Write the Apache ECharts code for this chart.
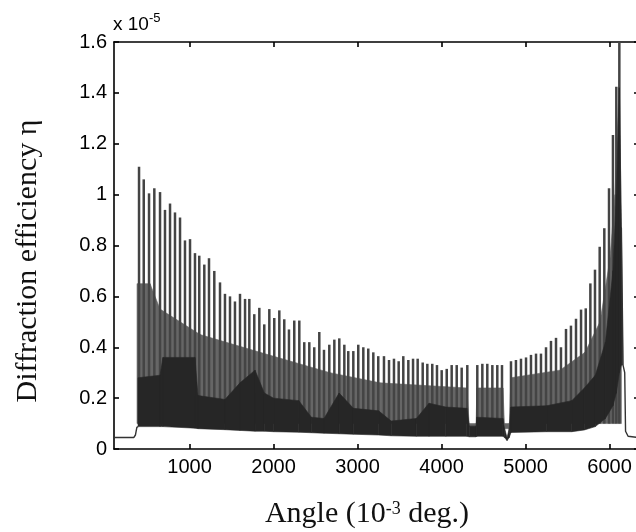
<!DOCTYPE html>
<html>
<head>
<meta charset="utf-8">
<script src="https://cdn.jsdelivr.net/npm/echarts@6/dist/echarts.min.js"></script>
<style>
  html, body { margin: 0; padding: 0; background: #fff; }
  #chart { width: 636px; height: 532px; }
</style>
</head>
<body>
<div id="chart"></div>
<script>
// ---- Data (angle in 10^-3 deg, efficiency in units of 1e-5) ----
const xTicks = [1000, 2000, 3000, 4000, 5000, 6000];

// Tall fringe spikes: positions and peak heights
const spikeX = [398, 454, 517, 580, 648, 707, 767, 826, 886, 945,
  1005, 1064, 1115, 1175, 1231, 1294, 1362, 1421, 1481, 1540,
  1600, 1660, 1711, 1770, 1830, 1889, 1949, 2008, 2068, 2127,
  2183, 2246, 2306, 2365, 2425, 2484, 2544, 2600, 2663, 2723,
  2782, 2842, 2889, 2949, 3008, 3068, 3127, 3187, 3246, 3314,
  3374, 3433, 3489, 3544, 3604, 3660, 3715, 3775, 3830, 3889,
  3945, 4001, 4061, 4120, 4180, 4239, 4306,
  4425, 4485, 4544, 4604, 4663, 4719,
  4826, 4885, 4945, 5005, 5064, 5124, 5183, 5243, 5302, 5362,
  5421, 5481, 5540, 5600, 5660, 5716, 5771, 5826, 5882, 5937,
  5993, 6040, 6080, 6116];
const spikeTop = [1.11, 1.06, 1.005, 1.025, 1.01, 0.94, 0.965, 0.93, 0.91, 0.82,
  0.825, 0.77, 0.76, 0.725, 0.75, 0.70, 0.655, 0.61, 0.60, 0.58,
  0.61, 0.59, 0.59, 0.53, 0.555, 0.49, 0.55, 0.515, 0.545, 0.51,
  0.47, 0.505, 0.505, 0.42, 0.42, 0.40, 0.46, 0.39, 0.41, 0.43,
  0.435, 0.41, 0.385, 0.385, 0.41, 0.40, 0.395, 0.38, 0.365, 0.365,
  0.35, 0.355, 0.345, 0.365, 0.35, 0.355, 0.355, 0.34, 0.335, 0.335,
  0.33, 0.31, 0.315, 0.33, 0.33, 0.32, 0.33,
  0.33, 0.335, 0.335, 0.33, 0.33, 0.33,
  0.345, 0.35, 0.355, 0.36, 0.37, 0.375, 0.375, 0.40, 0.425, 0.437,
  0.40, 0.472, 0.485, 0.512, 0.548, 0.553, 0.651, 0.705, 0.795, 0.868,
  1.025, 1.234, 1.424, 1.60];
const SPIKE_FLOOR = 0.1;

// Level below which the fringes merge into a dark grey mass
const midX = [374, 529, 648, 1124, 1838, 2671, 3267, 4300, 4330, 4410, 4420,
  4730, 4750, 4805, 4826, 5410, 5707, 5886, 6005, 6064, 6116, 6140];
const midHigh = [0.65, 0.65, 0.55, 0.45, 0.38, 0.30, 0.26, 0.24, 0.09, 0.09, 0.24,
  0.24, 0.08, 0.08, 0.28, 0.31, 0.38, 0.50, 0.75, 1.00, 1.45, 0.87];

// Dense dark band: lower and upper edges
const bandX = [386, 648, 683, 1064, 1100, 1421, 1600, 1779, 1890, 2000,
  2300, 2450, 2600, 2780, 2950, 3250, 3400, 3700, 3850, 4050,
  4300, 4330, 4410, 4420, 4730, 4750, 4779, 4805, 4826, 5250,
  5550, 5700, 5830, 5950, 6040, 6080, 6116, 6140, 6155];
const bandLow = [0.088, 0.088, 0.088, 0.082, 0.080, 0.076, 0.073, 0.070, 0.070, 0.068,
  0.066, 0.064, 0.062, 0.060, 0.058, 0.055, 0.052, 0.050, 0.050, 0.050,
  0.050, 0.048, 0.048, 0.050, 0.050, 0.045, 0.033, 0.045, 0.065, 0.068,
  0.068, 0.075, 0.088, 0.12, 0.17, 0.22, 0.30, 0.33, 0.33];
const bandHigh = [0.28, 0.29, 0.36, 0.36, 0.21, 0.195, 0.26, 0.31, 0.22, 0.20,
  0.19, 0.125, 0.12, 0.22, 0.16, 0.15, 0.11, 0.12, 0.18, 0.165,
  0.16, 0.09, 0.09, 0.125, 0.12, 0.08, 0.045, 0.08, 0.165, 0.17,
  0.19, 0.24, 0.29, 0.42, 0.70, 1.00, 1.42, 0.87, 0.40];

// Flat baseline before the fringes and the tail after the main peak
const leadX = [100, 335, 355, 372, 386];
const leadY = [0.045, 0.045, 0.055, 0.085, 0.088];
const tailX = [6140, 6160, 6180, 6190, 6220, 6350];
const tailY = [0.87, 0.33, 0.30, 0.07, 0.05, 0.045];

// ---- Build series data from the arrays ----
const spikeData = spikeX.map((x, i) => [x, spikeTop[i]]);
const bandSegs = [];
for (let i = 0; i < bandX.length - 1; i++) {
  bandSegs.push([bandX[i], bandX[i + 1], bandLow[i], bandLow[i + 1], bandHigh[i], bandHigh[i + 1]]);
}
const midSegs = [];
for (let i = 0; i < midX.length - 1; i++) {
  midSegs.push([midX[i], midX[i + 1], SPIKE_FLOOR, SPIKE_FLOOR, midHigh[i], midHigh[i + 1]]);
}
const lead = leadX.map((x, i) => [x, leadY[i]]);
const tail = tailX.map((x, i) => [x, tailY[i]]);

const chart = echarts.init(document.getElementById('chart'), null, { renderer: 'canvas' });
const axisLineStyle = { color: '#000', width: 1.6 };
const sans = 'Liberation Sans, Arial, sans-serif';
const serif = 'Liberation Serif, Times New Roman, serif';
const DARK = '#262626';
const MID = '#666666';
const SPIKE = '#444444';

function quadRenderer(color) {
  return (params, api) => {
    const x0 = api.value(0), x1 = api.value(1);
    const pts = [
      api.coord([x0, api.value(2)]),
      api.coord([x1, api.value(3)]),
      api.coord([x1, api.value(5)]),
      api.coord([x0, api.value(4)])
    ];
    return {
      type: 'polygon',
      shape: { points: pts },
      style: { fill: color, stroke: color, lineWidth: 0.6 }
    };
  };
}

chart.setOption({
  animation: false,
  backgroundColor: '#fff',
  grid: { left: 114, top: 42, width: 525, height: 407, outerBoundsMode: 'none', containLabel: false },
  xAxis: [
    {
      type: 'value', min: 100, max: 6350, position: 'bottom',
      axisLine: { show: true, onZero: false, lineStyle: axisLineStyle },
      axisTick: { show: true, inside: true, length: 5, customValues: xTicks, lineStyle: axisLineStyle },
      axisLabel: { show: true, customValues: xTicks, fontSize: 20, color: '#000', margin: 8, fontFamily: sans,
        formatter: v => String(v) },
      splitLine: { show: false }
    },
    {
      type: 'value', min: 100, max: 6350, position: 'top',
      axisLine: { show: true, onZero: false, lineStyle: axisLineStyle },
      axisTick: { show: true, inside: true, length: 5, customValues: xTicks, lineStyle: axisLineStyle },
      axisLabel: { show: false },
      splitLine: { show: false }
    }
  ],
  yAxis: [
    {
      type: 'value', min: 0, max: 1.6, interval: 0.2, position: 'left',
      axisLine: { show: true, onZero: false, lineStyle: axisLineStyle },
      axisTick: { show: true, inside: true, length: 5, lineStyle: axisLineStyle },
      axisLabel: { fontSize: 20, color: '#000', margin: 7, fontFamily: sans },
      splitLine: { show: false }
    },
    {
      type: 'value', min: 0, max: 1.6, interval: 0.2, position: 'right',
      axisLine: { show: true, onZero: false, lineStyle: axisLineStyle },
      axisTick: { show: true, inside: true, length: 5, lineStyle: axisLineStyle },
      axisLabel: { show: false },
      splitLine: { show: false }
    }
  ],
  series: [
    {
      name: 'mid', type: 'custom', data: midSegs, clip: true, z: 1,
      encode: { x: [0, 1], y: [2, 3, 4, 5] },
      renderItem: quadRenderer(MID)
    },
    {
      name: 'spikes', type: 'custom', data: spikeData, clip: true, z: 2,
      encode: { x: 0, y: 1 },
      renderItem: (params, api) => {
        const x = api.value(0);
        const p0 = api.coord([x, SPIKE_FLOOR]);
        const p1 = api.coord([x, api.value(1)]);
        return {
          type: 'line',
          shape: { x1: p0[0], y1: p0[1], x2: p1[0], y2: p1[1] },
          style: { stroke: SPIKE, lineWidth: 2.5 }
        };
      }
    },
    {
      name: 'band', type: 'custom', data: bandSegs, clip: true, z: 3,
      encode: { x: [0, 1], y: [2, 3, 4, 5] },
      renderItem: quadRenderer(DARK)
    },
    {
      name: 'lead', type: 'line', data: lead, symbol: 'none',
      lineStyle: { color: '#333', width: 1.4 }, z: 4
    },
    {
      name: 'tail', type: 'line', data: tail, symbol: 'none',
      lineStyle: { color: '#333', width: 1.4 }, z: 4
    }
  ],
  graphic: [
    {
      type: 'text', left: 113, top: 12,
      style: {
        text: '{a|x 10}{s|-5}',
        rich: {
          a: { fontSize: 19, fontFamily: sans, fill: '#000' },
          s: { fontSize: 13, fontFamily: sans, fill: '#000', padding: [0, 0, 12, 0] }
        }
      }
    },
    {
      type: 'text', x: 367, y: 514,
      style: {
        text: '{n|Angle (10}{s|-3}{n| deg.)}',
        align: 'center', verticalAlign: 'middle',
        rich: {
          n: { fontSize: 30, fontFamily: serif, fill: '#111' },
          s: { fontSize: 18, fontFamily: serif, fill: '#111', padding: [0, 0, 10, 0] }
        }
      }
    },
    {
      type: 'text', x: 28, y: 261, rotation: Math.PI / 2,
      style: {
        text: 'Diffraction efficiency η',
        font: '30px ' + serif, fill: '#111',
        align: 'center', verticalAlign: 'middle'
      }
    }
  ]
});
</script>
</body>
</html>
